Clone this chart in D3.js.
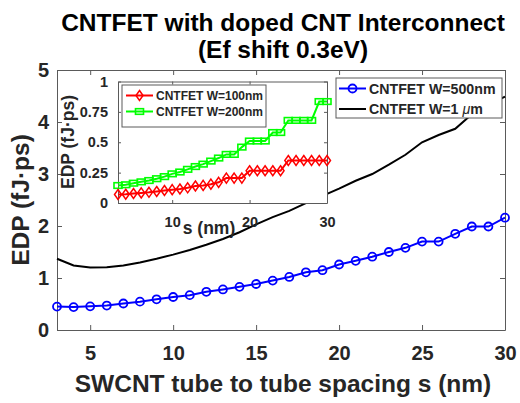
<!DOCTYPE html>
<html>
<head>
<meta charset="utf-8">
<script src="https://cdn.jsdelivr.net/npm/d3@7"></script>
<style>
  body { margin: 0; background: #fff; }
  text { font-family: "Liberation Sans", Arial, sans-serif; font-weight: bold; fill: #262626; }
</style>
</head>
<body>
<div class="chart"></div>
<script>
const spacing = d3.range(3, 31);

const edpW500 = [0.45, 0.44, 0.455, 0.47, 0.51, 0.545, 0.59, 0.635, 0.67, 0.735, 0.78, 0.83, 0.885, 0.95,
  1.02, 1.11, 1.15, 1.26, 1.33, 1.41, 1.50, 1.58, 1.70, 1.70, 1.85, 1.99, 1.99, 2.16];
const edpW1um = [1.37, 1.24, 1.20, 1.205, 1.24, 1.30, 1.37, 1.45, 1.54, 1.64, 1.75, 1.88, 2.03, 2.17,
  2.29, 2.44, 2.58, 2.72, 2.87, 3.00, 3.18, 3.37, 3.61, 3.75, 3.87, 4.15, 4.33, 4.49];
const edpW100 = [0.07, 0.072, 0.078, 0.083, 0.088, 0.095, 0.103, 0.11, 0.115, 0.125, 0.14, 0.145, 0.155, 0.17,
  0.205, 0.205, 0.205, 0.265, 0.265, 0.265, 0.265, 0.265, 0.35, 0.35, 0.35, 0.35, 0.35, 0.35];
const edpW200 = [0.144, 0.15, 0.163, 0.174, 0.185, 0.2, 0.217, 0.24, 0.255, 0.277, 0.30, 0.32, 0.345, 0.37,
  0.40, 0.40, 0.46, 0.51, 0.51, 0.51, 0.58, 0.58, 0.68, 0.68, 0.68, 0.68, 0.835, 0.835];

const mainXTicks = [5, 10, 15, 20, 25, 30];
const mainYTicks = [0, 1, 2, 3, 4, 5];
const insetXTicks = [10, 20, 30];
const insetYTicks = [0, 0.25, 0.5, 0.75, 1];

const titleLines = ["CNTFET with doped CNT Interconnect", "(Ef shift 0.3eV)"];
const mainLegend = ["CNTFET W=500nm", "CNTFET W=1 "];
const insetLegend = ["CNTFET W=100nm", "CNTFET W=200nm"];

const svg = d3.select(".chart").append("svg").attr("width", 520).attr("height", 403);
svg.append("rect").attr("width", 520).attr("height", 403).attr("fill", "#fff");

// main axes
const x = d3.scaleLinear().domain([3, 30]).range([57, 505]);
const y = d3.scaleLinear().domain([0, 5]).range([330, 70]);

const boxAxes = (g, xs, ys, xt, yt, tick, fontSize, padX, padY, fmt) => {
  const [x0, x1] = xs.range();
  const [y0, y1] = ys.range();
  g.append("g").attr("transform", `translate(0,${y0})`)
    .call(d3.axisBottom(xs).tickValues(xt).tickSize(-tick).tickSizeOuter(0).tickPadding(padX).tickFormat(fmt));
  g.append("g").attr("transform", `translate(0,${y1})`)
    .call(d3.axisTop(xs).tickValues(xt).tickSize(-tick).tickSizeOuter(0).tickFormat(""));
  g.append("g").attr("transform", `translate(${x0},0)`)
    .call(d3.axisLeft(ys).tickValues(yt).tickSize(-tick).tickSizeOuter(0).tickPadding(padY).tickFormat(fmt));
  g.append("g").attr("transform", `translate(${x1},0)`)
    .call(d3.axisRight(ys).tickValues(yt).tickSize(-tick).tickSizeOuter(0).tickFormat(""));
  g.selectAll(".domain, .tick line").attr("stroke", "#5a5a5a").attr("stroke-width", 1);
  g.selectAll(".tick text").attr("font-size", fontSize).attr("fill", "#262626")
    .attr("font-family", "'Liberation Sans', Arial, sans-serif").attr("font-weight", "bold");
};

const main = svg.append("g");
boxAxes(main, x, y, mainXTicks, mainYTicks, 5, 20, 16, 8, d => d);

const blackLine = d3.line().x((d, i) => x(spacing[i])).y(d => y(d));
main.append("path").datum(edpW1um).attr("d", blackLine)
  .attr("fill", "none").attr("stroke", "#000").attr("stroke-width", 2);
main.append("path").datum(edpW500).attr("d", blackLine)
  .attr("fill", "none").attr("stroke", "#0000ff").attr("stroke-width", 2);
main.selectAll(".blue-dot").data(edpW500).enter().append("circle")
  .attr("cx", (d, i) => x(spacing[i])).attr("cy", d => y(d)).attr("r", 4)
  .attr("fill", "none").attr("stroke", "#0000ff").attr("stroke-width", 1.8);

// labels
svg.selectAll(".title").data(titleLines).enter().append("text")
  .attr("x", 283).attr("y", (d, i) => 31 + i * 26.5)
  .attr("text-anchor", "middle").attr("font-size", 24.5).style("fill", "#000").text(d => d);
svg.append("text").attr("x", 283).attr("y", 392).attr("text-anchor", "middle")
  .attr("font-size", 24.5).text("SWCNT tube to tube spacing s (nm)");
svg.append("text").attr("transform", "translate(29,200) rotate(-90)").attr("text-anchor", "middle")
  .attr("font-size", 24.5).text("EDP (fJ\u00b7ps)");

// main legend
const lg = svg.append("g");
lg.append("rect").attr("x", 336).attr("y", 78).attr("width", 166).attr("height", 40)
  .attr("fill", "#fff").attr("stroke", "#5a5a5a");
lg.append("line").attr("x1", 339).attr("x2", 366).attr("y1", 88.5).attr("y2", 88.5)
  .attr("stroke", "#0000ff").attr("stroke-width", 2);
lg.append("circle").attr("cx", 352.5).attr("cy", 88.5).attr("r", 4)
  .attr("fill", "none").attr("stroke", "#0000ff").attr("stroke-width", 1.8);
lg.append("line").attr("x1", 339).attr("x2", 366).attr("y1", 109).attr("y2", 109)
  .attr("stroke", "#000").attr("stroke-width", 2);
lg.append("text").attr("x", 369).attr("y", 93.5).attr("font-size", 14.2).text(mainLegend[0]);
const t2 = lg.append("text").attr("x", 369).attr("y", 114).attr("font-size", 14.2).text(mainLegend[1]);
t2.append("tspan").attr("font-style", "italic").attr("font-weight", "normal").text("\u03bc");
t2.append("tspan").text("m");

// inset
const ix = d3.scaleLinear().domain([3, 30]).range([118, 327]);
const iy = d3.scaleLinear().domain([0, 1]).range([203, 81.5]);
const inset = svg.append("g");
inset.append("rect").attr("x", 118).attr("y", 81.5).attr("width", 209).attr("height", 121.5).attr("fill", "#fff");
boxAxes(inset, ix, iy, insetXTicks, insetYTicks, 3, 14.5, 14, 10, d => d);

const insetLine = d3.line().x((d, i) => ix(spacing[i])).y(d => iy(d));
inset.append("path").datum(edpW200).attr("d", insetLine)
  .attr("fill", "none").attr("stroke", "#00ff00").attr("stroke-width", 2);
inset.append("path").datum(edpW100).attr("d", insetLine)
  .attr("fill", "none").attr("stroke", "#ff0000").attr("stroke-width", 2);

const square = (g, cx, cy) => g.append("rect").attr("x", cx - 4).attr("y", cy - 2.8)
  .attr("width", 8).attr("height", 5.6).attr("fill", "none").attr("stroke", "#00ff00").attr("stroke-width", 1.6);
const diamond = (g, cx, cy) => g.append("path")
  .attr("d", `M${cx},${cy - 5}L${cx + 3.5},${cy}L${cx},${cy + 5}L${cx - 3.5},${cy}Z`)
  .attr("fill", "none").attr("stroke", "#ff0000").attr("stroke-width", 1.5);

edpW200.forEach((d, i) => square(inset, ix(spacing[i]), iy(d)));
edpW100.forEach((d, i) => diamond(inset, ix(spacing[i]), iy(d)));

inset.append("text").attr("x", 209).attr("y", 234).attr("text-anchor", "middle")
  .attr("font-size", 17.5).text("s (nm)");
inset.append("text").attr("transform", "translate(74,142) rotate(-90)").attr("text-anchor", "middle")
  .attr("font-size", 17.5).text("EDP (fJ\u00b7ps)");

// inset legend
const il = svg.append("g");
il.append("rect").attr("x", 122).attr("y", 85).attr("width", 144).attr("height", 42)
  .attr("fill", "#fff").attr("stroke", "#5a5a5a");
il.append("line").attr("x1", 126).attr("x2", 153).attr("y1", 95.5).attr("y2", 95.5)
  .attr("stroke", "#ff0000").attr("stroke-width", 2);
diamond(il, 139.5, 95.5);
il.append("line").attr("x1", 126).attr("x2", 153).attr("y1", 111.5).attr("y2", 111.5)
  .attr("stroke", "#00ff00").attr("stroke-width", 2);
square(il, 139.5, 111.5);
il.selectAll(".il-text").data(insetLegend).enter().append("text")
  .attr("x", 156).attr("y", (d, i) => 100 + i * 16).attr("font-size", 12).text(d => d);
</script>
</body>
</html>
